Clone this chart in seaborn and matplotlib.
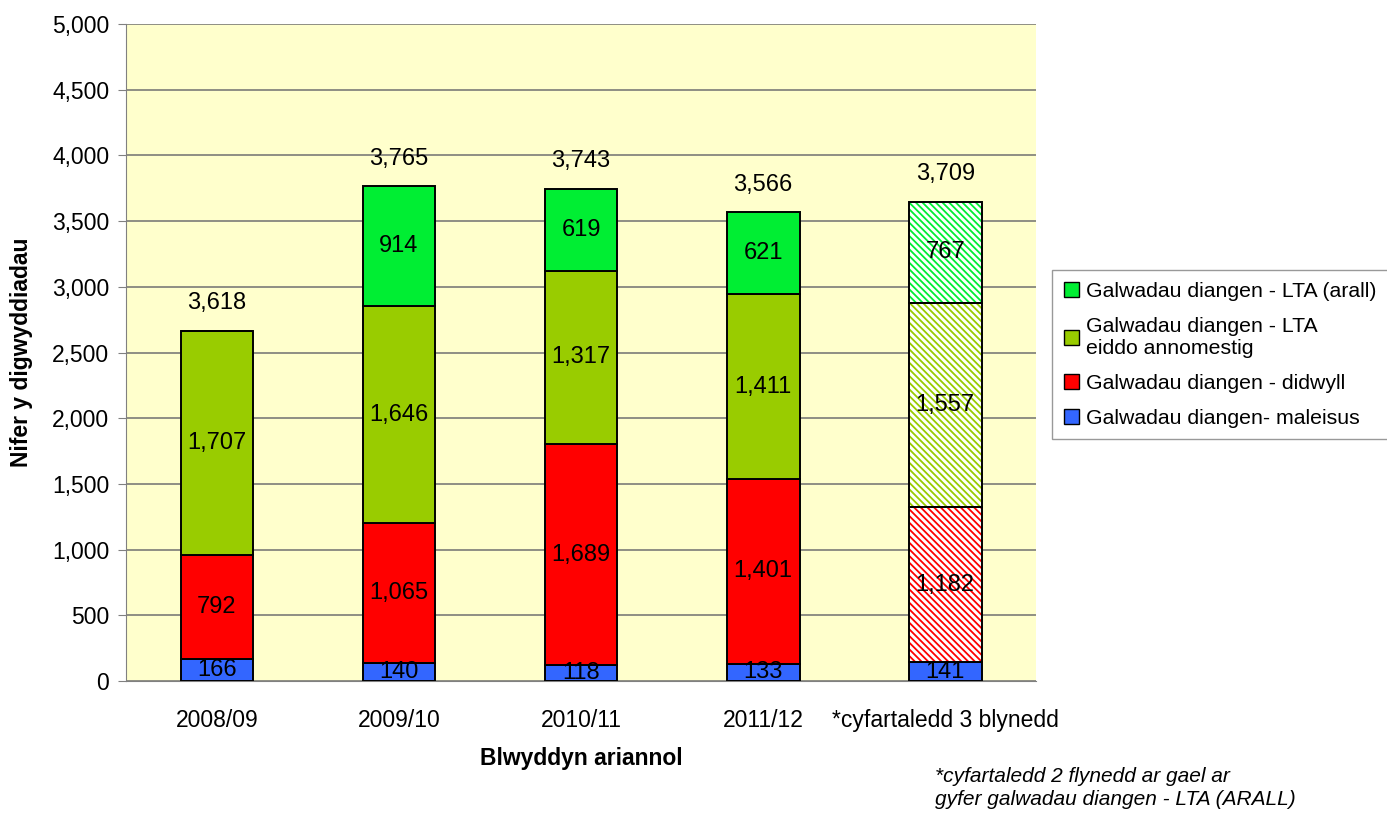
import matplotlib
matplotlib.use("Agg")
import matplotlib.pyplot as plt
import seaborn as sns
import numpy as np
from matplotlib.patches import Patch

# ---- data -------------------------------------------------------------------
years = ["2008/09", "2009/10", "2010/11", "2011/12", "*cyfartaledd 3 blynedd"]
maleisus = [166, 140, 118, 133, 141]
didwyll = [792, 1065, 1689, 1401, 1182]
lta_annomestig = [1707, 1646, 1317, 1411, 1557]
lta_arall = [0, 914, 619, 621, 767]
total_labels = ["3,618", "3,765", "3,743", "3,566", "3,709"]

series = [
    ("Galwadau diangen- maleisus", maleisus, "#3366FF", False),
    ("Galwadau diangen - didwyll", didwyll, "#FF0000", True),
    ("Galwadau diangen - LTA\neiddo annomestig", lta_annomestig, "#99CC00", True),
    ("Galwadau diangen - LTA (arall)", lta_arall, "#00EE33", True),
]

sns.set_style("white")
plt.rcParams["font.family"] = ["Liberation Sans", "DejaVu Sans"]
plt.rcParams["text.color"] = "black"
plt.rcParams["axes.labelcolor"] = "black"
plt.rcParams["xtick.color"] = "black"
plt.rcParams["ytick.color"] = "black"
plt.rcParams["hatch.linewidth"] = 1.3

FS = 16.5

fig = plt.figure(figsize=(13.87, 8.14), dpi=100)
ax = fig.add_axes([0.0908, 0.1634, 0.6563, 0.8071])
ax.set_facecolor("#FFFFCC")

bottom = np.zeros(len(years))
for name, vals, color, hatch_avg in series:
    vals = np.array(vals, dtype=float)
    sns.barplot(x=years, y=vals, bottom=bottom, color=color, width=0.4,
                edgecolor="black", linewidth=1.4, saturation=1, ax=ax,
                zorder=3)
    if hatch_avg:
        # hatched look for the average bar
        p = ax.patches[-1]
        p.set_facecolor("white")
        p.set_edgecolor(color)
        p.set_hatch("\\" * 5)
        p.set_linewidth(0)
        ax.bar(p.get_x() + p.get_width() / 2, p.get_height(),
               width=p.get_width(), bottom=p.get_y(), facecolor="none",
               edgecolor="black", linewidth=1.4, zorder=4)
    for i, v in enumerate(vals):
        if v > 0:
            ax.text(i, bottom[i] + v / 2, f"{int(v):,}", ha="center",
                    va="center", fontsize=17, zorder=5)
    bottom += vals

for i, lab in enumerate(total_labels):
    ax.annotate(lab, (i, bottom[i]), xytext=(0, 20), textcoords="offset points",
                ha="center", va="center", fontsize=17)

ax.set_ylim(0, 5000)
ax.set_xlim(-0.5, 4.5)
ax.set_yticks(np.arange(0, 5001, 500))
ax.set_yticklabels([f"{v:,}" for v in range(0, 5001, 500)], fontsize=FS)
ax.tick_params(axis="x", length=0, labelsize=FS, pad=20)
ax.set_xticks(np.arange(-0.5, 4.6, 1), minor=True)
ax.tick_params(axis="x", which="minor", length=6, color="#808080",
               direction="out")
ax.tick_params(axis="y", length=6, color="#808080", direction="out",
               left=True, pad=6)
ax.yaxis.grid(True, color="#707070", linewidth=1.1, zorder=0)
ax.set_axisbelow(True)
for s in ["top", "right"]:
    ax.spines[s].set_visible(False)
for s in ["left", "bottom"]:
    ax.spines[s].set_color("#808080")

ax.set_xlabel("Blwyddyn ariannol", fontsize=FS, fontweight="bold", labelpad=11)
ax.set_ylabel("Nifer y digwyddiadau", fontsize=FS, fontweight="bold",
              labelpad=14)

handles = [Patch(facecolor=c, edgecolor="black", label=n)
           for n, _, c, _ in reversed(series)]
leg = fig.legend(handles=handles, loc="upper left",
                 bbox_to_anchor=(1052 / 1387, 1 - 270 / 814),
                 fontsize=15.3, frameon=True, fancybox=False,
                 edgecolor="#808080", handlelength=0.7, handleheight=0.7,
                 handletextpad=0.35, labelspacing=0.75, borderpad=0.55,
                 borderaxespad=0)
leg.get_frame().set_linewidth(1)

fig.text(935 / 1387, 1 - 788 / 814,
         "*cyfartaledd 2 flynedd ar gael ar\ngyfer galwadau diangen - LTA (ARALL)",
         fontsize=15, style="italic", va="center", ha="left", linespacing=1.25)

fig.savefig("out.png", dpi=100)
